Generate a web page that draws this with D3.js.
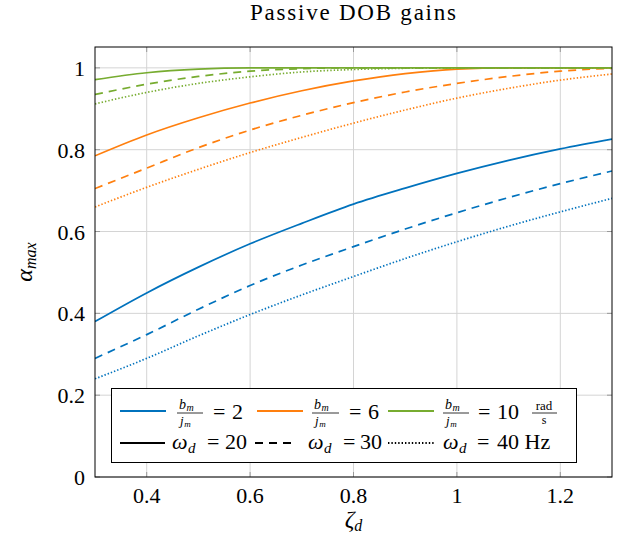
<!DOCTYPE html>
<html>
<head>
<meta charset="utf-8">
<script src="https://cdn.jsdelivr.net/npm/d3@7"></script>
<style>
body { margin: 0; background: #fff; }
</style>
</head>
<body>
<div id="chartArea"></div>
<script>
// data
const zeta = [0.3, 0.4, 0.5, 0.6, 0.7, 0.8, 0.9, 1.0, 1.1, 1.2, 1.3];

const blue20 = [0.38, 0.45, 0.513, 0.57, 0.62, 0.667, 0.706, 0.742, 0.774, 0.802, 0.826];
const blue30 = [0.29, 0.348, 0.41, 0.468, 0.518, 0.563, 0.606, 0.646, 0.683, 0.717, 0.748];
const blue40 = [0.24, 0.29, 0.345, 0.397, 0.445, 0.49, 0.534, 0.575, 0.613, 0.648, 0.681];

const orange20 = [0.785, 0.836, 0.878, 0.914, 0.944, 0.968, 0.986, 0.997, 1.0, 1.0, 1.0];
const orange30 = [0.705, 0.755, 0.805, 0.848, 0.884, 0.915, 0.941, 0.962, 0.979, 0.992, 0.999];
const orange40 = [0.66, 0.708, 0.752, 0.793, 0.83, 0.865, 0.897, 0.926, 0.95, 0.97, 0.985];

const green20 = [0.971, 0.988, 0.997, 1.0, 1.0, 1.0, 1.0, 1.0, 1.0, 1.0, 1.0];
const green30 = [0.935, 0.96, 0.979, 0.992, 0.998, 1.0, 1.0, 1.0, 1.0, 1.0, 1.0];
const green40 = [0.912, 0.94, 0.962, 0.978, 0.99, 0.996, 0.999, 1.0, 1.0, 1.0, 1.0];

const xTicks = [0.4, 0.6, 0.8, 1, 1.2];
const yTicks = [0, 0.2, 0.4, 0.6, 0.8, 1];

const ratioLabels = ["2", "6", "10"];
const freqLabels = ["20", "30", "40 Hz"];

const colors = { b2: "#0072bd", b6: "#ff7f0e", b10: "#77ac30" };
const dashes = { w20: null, w30: "8,6", w40: "1.4,2" };

const series = [
  { c: "b2", w: "w20", v: blue20 }, { c: "b2", w: "w30", v: blue30 }, { c: "b2", w: "w40", v: blue40 },
  { c: "b6", w: "w20", v: orange20 }, { c: "b6", w: "w30", v: orange30 }, { c: "b6", w: "w40", v: orange40 },
  { c: "b10", w: "w20", v: green20 }, { c: "b10", w: "w30", v: green30 }, { c: "b10", w: "w40", v: green40 }
];

const serif = "'Liberation Serif', 'DejaVu Serif', serif";

const margin = { top: 47, right: 14, bottom: 72, left: 95 },
  W = 626, H = 549,
  width = W - margin.left - margin.right,
  height = H - margin.top - margin.bottom;

const svg = d3.select("#chartArea").append("svg")
  .attr("width", W).attr("height", H)
  .attr("font-family", serif);

const g = svg.append("g").attr("transform", `translate(${margin.left},${margin.top})`);

const x = d3.scaleLinear().domain([0.3, 1.3]).range([0, width]);
const y = d3.scaleLinear().domain([0, 1.051]).range([height, 0]);

// grid
g.selectAll(".vgrid").data(xTicks).enter().append("line")
  .attr("x1", d => x(d)).attr("x2", d => x(d)).attr("y1", 0).attr("y2", height)
  .attr("stroke", "#d4d4d4").attr("stroke-width", 1);
g.selectAll(".hgrid").data(yTicks).enter().append("line")
  .attr("x1", 0).attr("x2", width).attr("y1", d => y(d)).attr("y2", d => y(d))
  .attr("stroke", "#d4d4d4").attr("stroke-width", 1);

// inward ticks on all sides
const tl = 5;
xTicks.forEach(t => {
  g.append("line").attr("x1", x(t)).attr("x2", x(t)).attr("y1", height).attr("y2", height - tl).attr("stroke", "#999");
  g.append("line").attr("x1", x(t)).attr("x2", x(t)).attr("y1", 0).attr("y2", tl).attr("stroke", "#999");
});
yTicks.forEach(t => {
  g.append("line").attr("x1", 0).attr("x2", tl).attr("y1", y(t)).attr("y2", y(t)).attr("stroke", "#999");
  g.append("line").attr("x1", width).attr("x2", width - tl).attr("y1", y(t)).attr("y2", y(t)).attr("stroke", "#999");
});

// curves
const line = d3.line()
  .x((d, i) => x(zeta[i]))
  .y(d => y(d))
  .curve(d3.curveMonotoneX);

g.append("defs").append("clipPath").attr("id", "clip")
  .append("rect").attr("width", width).attr("height", height);

g.append("g").attr("clip-path", "url(#clip)")
  .selectAll("path").data(series).enter().append("path")
  .attr("d", d => line(d.v))
  .attr("fill", "none")
  .attr("stroke", d => colors[d.c])
  .attr("stroke-width", 1.7)
  .attr("stroke-dasharray", d => dashes[d.w]);

// frame
g.append("rect").attr("width", width).attr("height", height)
  .attr("fill", "none").attr("stroke", "#000").attr("stroke-width", 1);

// tick labels
g.selectAll(".xl").data(xTicks).enter().append("text")
  .attr("x", d => x(d)).attr("y", height + 26)
  .attr("text-anchor", "middle").attr("font-size", 22)
  .text(d => d3.format("~g")(d));
g.selectAll(".yl").data(yTicks).enter().append("text")
  .attr("x", -10).attr("y", d => y(d) + 8)
  .attr("text-anchor", "end").attr("font-size", 22)
  .text(d => d3.format("~g")(d));

// title
svg.append("text").attr("x", 353).attr("y", 20)
  .attr("text-anchor", "middle").attr("font-size", 23)
  .attr("textLength", 206).attr("lengthAdjust", "spacing")
  .text("Passive DOB gains");

// axis labels
const xl = svg.append("text").attr("x", margin.left + width / 2).attr("y", 527)
  .attr("text-anchor", "middle").attr("font-size", 24).attr("font-style", "italic");
xl.append("tspan").text("ζ");
xl.append("tspan").attr("dy", 4).attr("font-size", 16).text("d");

const yl = svg.append("text")
  .attr("transform", `translate(32,${margin.top + height / 2}) rotate(-90)`)
  .attr("text-anchor", "middle").attr("font-size", 24).attr("font-style", "italic");
yl.append("tspan").text("α");
yl.append("tspan").attr("dy", 4).attr("font-size", 16).text("max");

// legend
const lg = svg.append("g");
lg.append("rect").attr("x", 111.5).attr("y", 388.5).attr("width", 465).attr("height", 74)
  .attr("fill", "#fff").attr("stroke", "#000").attr("stroke-width", 1);

const row1 = 410, row2 = 444;

// italic letter with subscript, as separate text pieces
function sym(xs, yb, base, sub, size, subSize, drop) {
  const t = lg.append("text").attr("x", xs).attr("y", yb)
    .attr("font-size", size).attr("font-style", "italic").text(base);
  const w = t.node().getComputedTextLength();
  lg.append("text").attr("x", xs + w + 0.5).attr("y", yb + drop)
    .attr("font-size", subSize).attr("font-style", "italic").text(sub);
}

function frac(x0, x1, yc) {
  lg.append("line").attr("x1", x0).attr("x2", x1).attr("y1", yc).attr("y2", yc)
    .attr("stroke", "#000").attr("stroke-width", 0.8);
  sym(x0 + 2, yc - 4, "b", "m", 14, 10, 2);
  sym(x0 + 3, yc + 12, "j", "m", 13, 9, 1.5);
}

// legend layout: line start, fraction span, "=" and value positions
const colLayout = [
  { key: "b2", lx: 120, fx: [177, 203], ex: 213, vx: 232 },
  { key: "b6", lx: 257, fx: [312, 339], ex: 349, vx: 368 },
  { key: "b10", lx: 388, fx: [443, 469], ex: 478, vx: 497 }
];
colLayout.forEach((d, i) => {
  lg.append("line").attr("x1", d.lx).attr("x2", d.lx + 46).attr("y1", row1 + 1).attr("y2", row1 + 1)
    .attr("stroke", colors[d.key]).attr("stroke-width", 2.2);
  frac(d.fx[0], d.fx[1], row1 + 3);
  lg.append("text").attr("x", d.ex).attr("y", row1 + 9).attr("font-size", 22).text("=");
  lg.append("text").attr("x", d.vx).attr("y", row1 + 9).attr("font-size", 22).text(ratioLabels[i]);
});
// rad/s unit
lg.append("text").attr("x", 544).attr("y", row1).attr("text-anchor", "middle").attr("font-size", 13).text("rad");
lg.append("line").attr("x1", 532).attr("x2", 557).attr("y1", row1 + 3).attr("y2", row1 + 3).attr("stroke", "#000").attr("stroke-width", 0.8);
lg.append("text").attr("x", 544).attr("y", row1 + 14).attr("text-anchor", "middle").attr("font-size", 12).text("s");

const styleLayout = [
  { key: "w20", lx: 120, len: 45, sx: 172, ex: 207, vx: 225 },
  { key: "w30", lx: 255, len: 42, sx: 308, ex: 343, vx: 360 },
  { key: "w40", lx: 388, len: 47, sx: 443, ex: 477, vx: 497 }
];
styleLayout.forEach((d, i) => {
  lg.append("line").attr("x1", d.lx).attr("x2", d.lx + d.len).attr("y1", row2 - 1).attr("y2", row2 - 1)
    .attr("stroke", "#000").attr("stroke-width", 2.2).attr("stroke-dasharray", dashes[d.key]);
  sym(d.sx, row2 + 5, "ω", "d", 22, 15, 4);
  lg.append("text").attr("x", d.ex).attr("y", row2 + 5).attr("font-size", 22).text("=");
  lg.append("text").attr("x", d.vx).attr("y", row2 + 5).attr("font-size", 22).text(freqLabels[i]);
});
</script>
</body>
</html>
